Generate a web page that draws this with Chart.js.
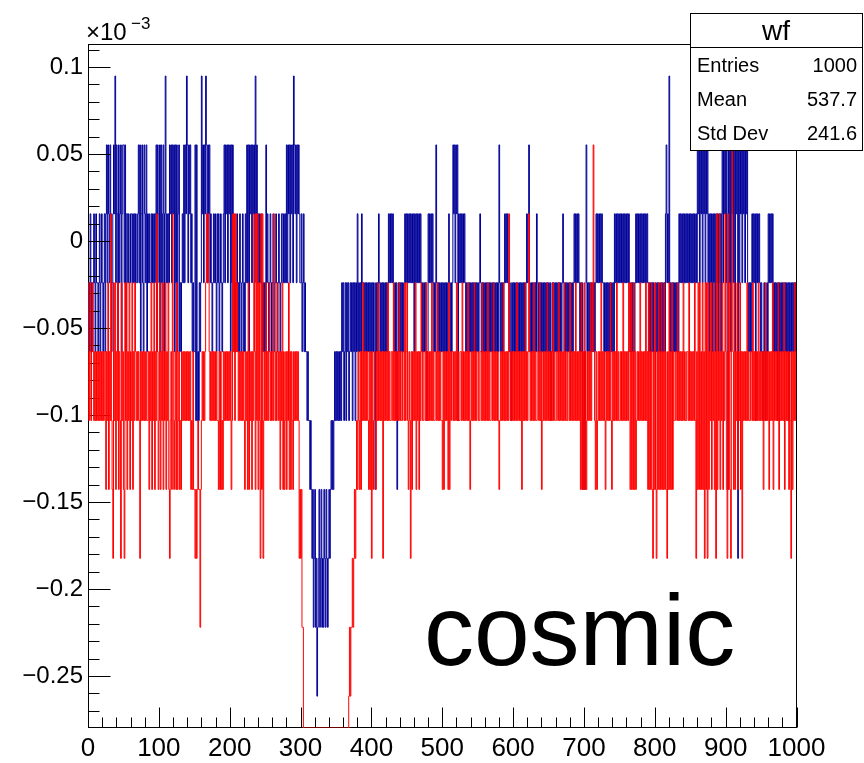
<!DOCTYPE html>
<html>
<head>
<meta charset="utf-8">
<script src="https://cdn.jsdelivr.net/npm/chart.js@4.4.1/dist/chart.umd.min.js"></script>
<style>
  html, body { margin: 0; padding: 0; background: #fff; }
  #wrap { width: 864px; height: 763px; }
</style>
</head>
<body>
<div id="wrap"><canvas id="wfChart" width="864" height="763"></canvas></div>
<script>
// ADC levels seen in the picture (x10^-3); 'a' is below the axis
const levels = [0.0948, 0.0552, 0.0156, -0.024, -0.0636, -0.1032, -0.1428, -0.1824, -0.222, -0.2616, -0.301];

// one character per bin (index into levels)
const blueCodes = [
  '3432434323423343243234324', '2131231243212031241321421',            // 0-49
  '13142', '2323322323232332', '1314213412314', '232332323232', '1412',  // 50-99
  '31413214203', '2323121312', '14131421', '434323', '1312013121', '32434',
  '415154534', '30213120131213', '2343232342324323432', '13121312',
  '14131', '2434324342343243423', '1314121312130213', '2323234343',
  '41', '3234323432343234323432', '232323', '131213121301213121', '23',
  '32432434', '4545565', '67687', '68798', '76876', '87867', '86787', '6', '765656545', // 300-349
  '45454545', '34354353435434', '35343534', '2434342', '3434343434343',
  '4343463434', '2', '3434343434343', '2323232', '3434364343434343', '232',
  '32323232324232323232', '3434343454', '23232323', '434', '1', '34343434',
  '343434343', '2', '34343', '1213121', '5', '232323232', '343434343434343434',
  '343', '2', '34343434343434343434343434', '1', '3434343', '232323', '434', '5', '34',
  '343434343434343434', '3232', '1', '3434343434', '2', '3434343434343434',
  '343', '5', '4343434343434343', '2', '343434343434343', '23232323', '4343', '65',
  '464', '1', '3434343434343', '2323232323', '3434343434343434', '2323232',
  '323232323232323', '43434343', '232323232323232323', '434343434',
  '434343434343434', '2', '1', '323', '0', '4343434343434', '2323232323232323',
  '232323232', '3', '121312131213121', '32423242324232423242', '13121',
  '31461314121314121', '7', '1312131213121', '343434', '232325232323', '4',
  '3454345434', '2323232', '434343534343434343434353434343434'          // 950-999
].join('');

const redCodes = [
  '354354345', '454545454545454', '46453645', '2', '56', '7', '3536453645', '7', '354',
  '6', '7', '353645364536453', '454545', '7', '4545454545', '5464536453645', '2', '46',
  '536453645364536', '7', '546', '2', '465463654656454', '545454545465646',
  '6767656', '6', '8', '6545454', '32323', '454545454545', '56464656', '454545454',
  '5465', '2425243', '4545454545', '6454636454645', '246252635', '726275', '4',
  '535454354545', '2', '4545345', '46453646546453646456', '4545454', '576',
  '7688', 'aaaaaaaaaa', 'aaaaaaaaaa', 'aaaaaaaaaa', 'aaaaaaaaaa', 'aaaaaa',  // 300-349
  'aaaaaaaaaa', 'aaaaaaaa', '9898', '87876765', '64564645354545456464',
  '7', '465456453545454', '7', '45454535', '45544535', '45454535', '45544535', '4',
  '35645', '7', '464545364546453', '45544535', '45454535', '45544535', '45455',
  '64645454636454', '45454535', '45544535', '45454535', '4', '6', '5454535454',
  '45544535', '45454535', '45544535', '454545', '6', '5454535454545', '2', '45454',
  '545453545454', '6', '454535454', '2', '45454535', '45544535', '4', '6', '545454535',
  '45454535', '45544535', '45454535', '45544535', '45454535', '45454', '63646',
  '3646', '54545354', '3145', '646', '54545354545', '6', '45454535', '6', '4545453545',
  '54545354545453', '4636463646', '5454535454545354', '6364636', '7', '46',
  '36', '7', '46364636463646', '7', '46364636', '45544535', '45454535', '45544535',
  '45454535', '7', '46363646364', '7', '363', '7', '36453645364', '7', '2645264536452',
  '46', '7', '2636', '7', '3', '1', '4636453645364', '7', '45454535', '45544535', '45454535', '45',
  '4546', '4535', '4546', '4545', '3645', '4545', '3645', '4545', '3645', '4546',
  '45', '7', '4645354'  // 950-999
].join('');

const xTicks = [0, 100, 200, 300, 400, 500, 600, 700, 800, 900, 1000];
const yTicks = [0.1, 0.05, 0, -0.05, -0.1, -0.15, -0.2, -0.25];
const yTickLabels = ['0.1', '0.05', '0', '\u22120.05', '\u22120.1', '\u22120.15', '\u22120.2', '\u22120.25'];
const statsRows = [['Entries', '1000'], ['Mean', '537.7'], ['Std Dev', '241.6']];
const histTitle = 'wf';
const bigLabel = 'cosmic';

const yMin = -0.2799;
const yMax = 0.1132;
const FONT = "'Liberation Sans', Arial, Helvetica, sans-serif";

// histogram bins -> step points (values under the axis sit on the frame, as ROOT does)
function toSteps(codes) {
    const pts = [];
    for (let i = 0; i < codes.length; i++) {
        const v = levels[parseInt(codes[i], 36)];
        pts.push({ x: i, y: Math.max(v, yMin) });
    }
    pts.push({ x: codes.length, y: pts[pts.length - 1].y });
    return pts;
}

function line(ctx, x1, y1, x2, y2) {
    ctx.beginPath();
    ctx.moveTo(x1, y1);
    ctx.lineTo(x2, y2);
    ctx.stroke();
}

// frame + inner ticks, ROOT style
function drawAxes(chart) {
    const { ctx, chartArea: a, scales: { x, y } } = chart;
    const L = Math.round(a.left) + 0.5, R = Math.round(a.right) - 0.5;
    const T = Math.round(a.top) + 0.5, B = Math.round(a.bottom) - 0.5;
    ctx.save();
    ctx.strokeStyle = '#000';
    ctx.lineWidth = 1;
    ctx.strokeRect(L, T, R - L, B - T);
    for (let k = -27; k <= 11; k++) {
        const py = Math.round(y.getPixelForValue(k / 100)) + 0.5;
        line(ctx, L, py, L + (k % 5 === 0 ? 22 : 11), py);
    }
    for (let k = 0; k <= 50; k++) {
        const px = Math.round(x.getPixelForValue(k * 20)) + 0.5;
        line(ctx, px, B, px, B - (k % 5 === 0 ? 20 : 10));
    }
    ctx.restore();
}

function drawExtras(chart) {
    const ctx = chart.ctx;
    ctx.save();
    ctx.fillStyle = '#000';
    ctx.textBaseline = 'alphabetic';

    // exponent label
    ctx.font = '24px ' + FONT;
    ctx.textAlign = 'left';
    ctx.fillText('\u00d710', 86, 40);
    ctx.font = '17px ' + FONT;
    ctx.fillText('\u22123', 131, 29);

    // stats box
    ctx.fillStyle = '#fff';
    ctx.fillRect(690, 14, 172, 136);
    ctx.strokeStyle = '#000';
    ctx.lineWidth = 1;
    ctx.strokeRect(690.5, 13.5, 172, 137);
    line(ctx, 690.5, 47.5, 862.5, 47.5);
    ctx.fillStyle = '#000';
    ctx.textBaseline = 'middle';
    ctx.textAlign = 'center';
    ctx.font = '28px ' + FONT;
    ctx.fillText(histTitle, 776, 32);
    ctx.font = '20px ' + FONT;
    statsRows.forEach((r, i) => {
        const ty = 66 + i * 34;
        ctx.textAlign = 'left';
        ctx.fillText(r[0], 697, ty);
        ctx.textAlign = 'right';
        ctx.fillText(r[1], 857, ty);
    });

    // big label
    ctx.textBaseline = 'alphabetic';
    ctx.textAlign = 'left';
    ctx.font = '100px ' + FONT;
    ctx.fillText(bigLabel, 424, 665);
    ctx.restore();
}

const rootStyle = {
    id: 'rootStyle',
    afterDatasetDraw(chart, args) {
        // axes get painted after the first histogram, before the "same" one
        if (args.index === 0) drawAxes(chart);
    },
    afterDraw(chart) {
        drawExtras(chart);
    }
};

Chart.defaults.font.family = FONT;
Chart.defaults.color = '#000';

const ctx = document.getElementById('wfChart').getContext('2d');
new Chart(ctx, {
    type: 'line',
    data: {
        datasets: [
            { label: 'wf', data: toSteps(blueCodes), borderColor: '#000099', borderWidth: 1,
              pointRadius: 0, stepped: true, fill: false, order: 1 },
            { label: 'cosmic', data: toSteps(redCodes), borderColor: '#ff0000', borderWidth: 1,
              pointRadius: 0, stepped: true, fill: false, order: 0 }
        ]
    },
    options: {
        responsive: false,
        animation: false,
        devicePixelRatio: 1,
        layout: { padding: { top: 44, right: 67.5, left: 0, bottom: 0 } },
        plugins: { legend: { display: false }, tooltip: { enabled: false } },
        scales: {
            x: {
                type: 'linear', min: 0, max: 1000,
                grid: { display: false, drawTicks: false },
                border: { display: false },
                afterBuildTicks: s => { s.ticks = xTicks.map(v => ({ value: v })); },
                afterFit: s => { s.height = 35; },
                ticks: { color: '#000', font: { size: 26 }, padding: 5, maxRotation: 0, autoSkip: false,
                         callback: v => String(v) }
            },
            y: {
                type: 'linear', min: yMin, max: yMax,
                grid: { display: false, drawTicks: false },
                border: { display: false },
                afterBuildTicks: s => { s.ticks = yTicks.map(v => ({ value: v })); },
                afterFit: s => { s.width = 88; },
                ticks: { color: '#000', font: { size: 24 }, padding: 5, autoSkip: false,
                         callback: (v, i) => yTickLabels[i] }
            }
        }
    },
    plugins: [rootStyle]
});
</script>
</body>
</html>
